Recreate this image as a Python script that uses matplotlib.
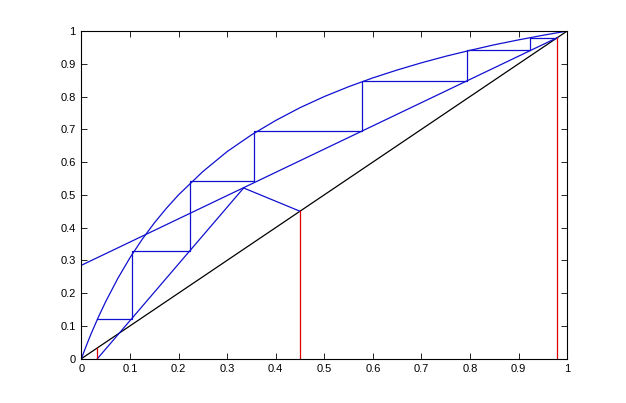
import matplotlib
matplotlib.use("Agg")
import matplotlib.pyplot as plt

# Equilibrium curve
eq_x = [0, 0.01, 0.02, 0.035, 0.05, 0.075, 0.1, 0.125, 0.15, 0.175, 0.2, 0.25, 0.3, 0.35, 0.4,
        0.45, 0.5, 0.55, 0.6, 0.65, 0.7, 0.75, 0.8, 0.85, 0.9, 0.95, 1.0]
eq_y = [0, 0.039, 0.076, 0.127, 0.174, 0.245, 0.308, 0.364, 0.414, 0.459, 0.500, 0.571, 0.632,
        0.683, 0.727, 0.766, 0.800, 0.830, 0.857, 0.881, 0.903, 0.923, 0.941, 0.958,
        0.973, 0.987, 1.0]

# Operating lines
rect_x = [0, 0.98]
rect_y = [0.285, 0.98]
strip_x = [0.033, 0.334]
strip_y = [0.0, 0.521]
q_x = [0.45, 0.334]
q_y = [0.45, 0.521]

# Staircase
stair_x = [0.98, 0.923, 0.923, 0.793, 0.793, 0.577, 0.577, 0.356, 0.356, 0.224, 0.224,
           0.105, 0.105, 0.033]
stair_y = [0.98, 0.98, 0.942, 0.942, 0.849, 0.849, 0.696, 0.696, 0.541, 0.541, 0.328,
           0.328, 0.1225, 0.1225]

# Compositions (red markers): xW, xF, xD
comp_x = [0.033, 0.45, 0.98]

ticks = [0, 0.1, 0.2, 0.3, 0.4, 0.5, 0.6, 0.7, 0.8, 0.9, 1]
tick_labels = ["0", "0.1", "0.2", "0.3", "0.4", "0.5", "0.6", "0.7", "0.8", "0.9", "1"]

fig = plt.figure(figsize=(6.26, 4.03), dpi=100)
ax = fig.add_axes([0.130, 0.110, 0.776, 0.813])

lw = 0.9
blue = "#1010d0"
ax.plot([0, 1], [0, 1], color="black", lw=lw)
ax.plot(eq_x, eq_y, color=blue, lw=lw)
ax.plot(rect_x, rect_y, color=blue, lw=lw)
ax.plot(strip_x, strip_y, color=blue, lw=lw)
ax.plot(q_x, q_y, color=blue, lw=lw)
ax.plot(stair_x, stair_y, color=blue, lw=lw)
for c in comp_x:
    ax.plot([c, c], [0, c], color="#e00000", lw=lw)

ax.set_xlim(0, 1)
ax.set_ylim(0, 1)
ax.set_xticks(ticks)
ax.set_yticks(ticks)
ax.set_xticklabels(tick_labels, fontfamily="Liberation Sans", fontsize=8)
ax.set_yticklabels(tick_labels, fontfamily="Liberation Sans", fontsize=8)
ax.tick_params(direction="in", top=True, right=True, length=4, width=0.6, pad=4)
for s in ax.spines.values():
    s.set_linewidth(0.8)

fig.savefig("out.png", dpi=100)
